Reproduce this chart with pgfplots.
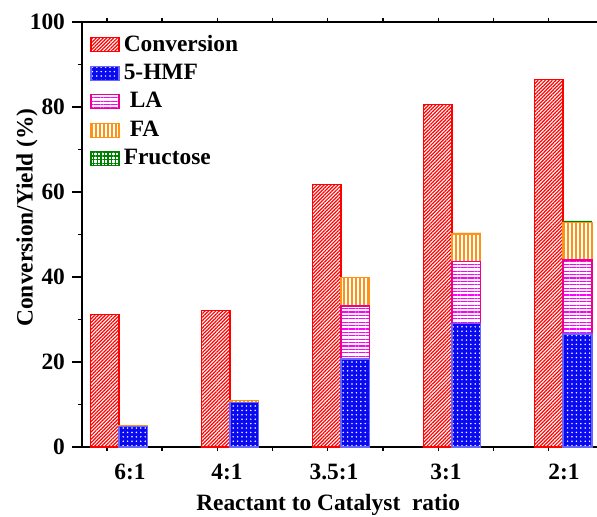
\documentclass[border=0pt]{standalone}
\usepackage{pgfplots}
\pgfplotsset{compat=1.18}
\usepackage{fontspec}
\setmainfont{Liberation Serif}
\usetikzlibrary{patterns.meta}
\definecolor{faorange}{RGB}{255,145,20}
\definecolor{frgreen}{RGB}{0,128,0}
\definecolor{hmfblue}{RGB}{10,10,240}
\tikzset{
  convstyle/.style={draw=red, line width=0.6pt, pattern={Lines[angle=45,distance=1.25pt,line width=0.6pt]}, pattern color=red},
  hmfstyle/.style={draw=blue!60, line width=0.6pt, fill=hmfblue, postaction={pattern={Dots[distance=2.2pt,radius=0.42pt]}, pattern color=white}},
  lastyle/.style={draw=magenta, line width=0.6pt, pattern={Lines[angle=0,distance=1.7pt,line width=0.65pt]}, pattern color=magenta},
  fastyle/.style={draw=faorange, line width=0.6pt, pattern={Lines[angle=90,distance=2pt,line width=0.7pt]}, pattern color=faorange},
  frstyle/.style={draw=frgreen, line width=0.6pt, pattern={Hatch[angle=0,distance=1.8pt,line width=0.7pt]}, pattern color=frgreen},
}
\newcommand{\tfont}{\fontsize{11.7}{14}\selectfont\bfseries}
\pgfplotsset{
  common/.style={
    at={(0,0)}, anchor=south west,
    width=257.5pt, height=212.5pt, scale only axis,
    xmin=-0.333, xmax=4.306, ymin=0, ymax=100,
  }
}
\begin{document}
\begin{tikzpicture}
\useasboundingbox (-41pt,-34.5pt) rectangle (257.5pt,223.5pt);
\begin{axis}[
  common,
  axis x line*=box, axis y line*=left,
  axis line style={line width=0.8pt},
  ytick={0,20,...,100}, minor ytick={10,30,...,90},
  xtick={0.1,0.973,1.937,2.946,4.009},
  xticklabels={6:1,4:1,3.5:1,3:1,2:1},
  major x tick style={draw=none},
  minor xtick={-0.108,0.387,0.885,1.383,1.88,2.378,2.876,3.374,3.871},
  tick align=outside,
  major tick length=5pt, minor tick length=2pt,
  tick style={line width=0.6pt, black},
  ticklabel style={font=\tfont},
  /pgf/number format/assume math mode=true,
  xlabel={Reactant to Catalyst\ \ ratio},
  ylabel={Conversion/Yield (\%)},
  label style={font=\tfont},
  xlabel style={at={(axis description cs:0.478,0)}, anchor=north, yshift=-20pt},
  ylabel style={at={(axis description cs:-0.107,0.54)}, anchor=center},
]
\addplot[ybar, bar width=0.26, bar shift=-0.13, convstyle] coordinates {(0,31.2) (1,32.2) (2,61.7) (3,80.5) (4,86.4)};
\end{axis}
\begin{axis}[
  common,
  hide axis,
  ybar stacked, bar width=0.26, bar shift=0.13,
  legend image code/.code={\draw[#1] (0pt,-3.5pt) rectangle (14pt,3.5pt);},
  legend style={draw=none, fill=none, font=\tfont, at={(axis description cs:0.0155,0.98)}, anchor=north west, row sep=1pt, inner sep=0pt, cells={anchor=west}},
]
\addlegendimage{convstyle}
\addlegendentry{Conversion}
\addplot[hmfstyle] coordinates {(0,4.8) (1,10.4) (2,20.7) (3,29.1) (4,26.6)};
\addlegendentry{5-HMF}
\addplot[lastyle] coordinates {(0,0) (1,0) (2,12.5) (3,14.6) (4,17.4)};
\addlegendentry{\hspace{3pt}LA}
\addplot[fastyle] coordinates {(0,0.3) (1,0.5) (2,6.6) (3,6.4) (4,8.9)};
\addlegendentry{\hspace{3pt}FA}
\addplot[draw=none, fill=frgreen, forget plot] coordinates {(0,0) (1,0) (2,0) (3,0.3) (4,0.3)};
\addlegendimage{frstyle}
\addlegendentry{Fructose}
\end{axis}
\end{tikzpicture}
\end{document}
